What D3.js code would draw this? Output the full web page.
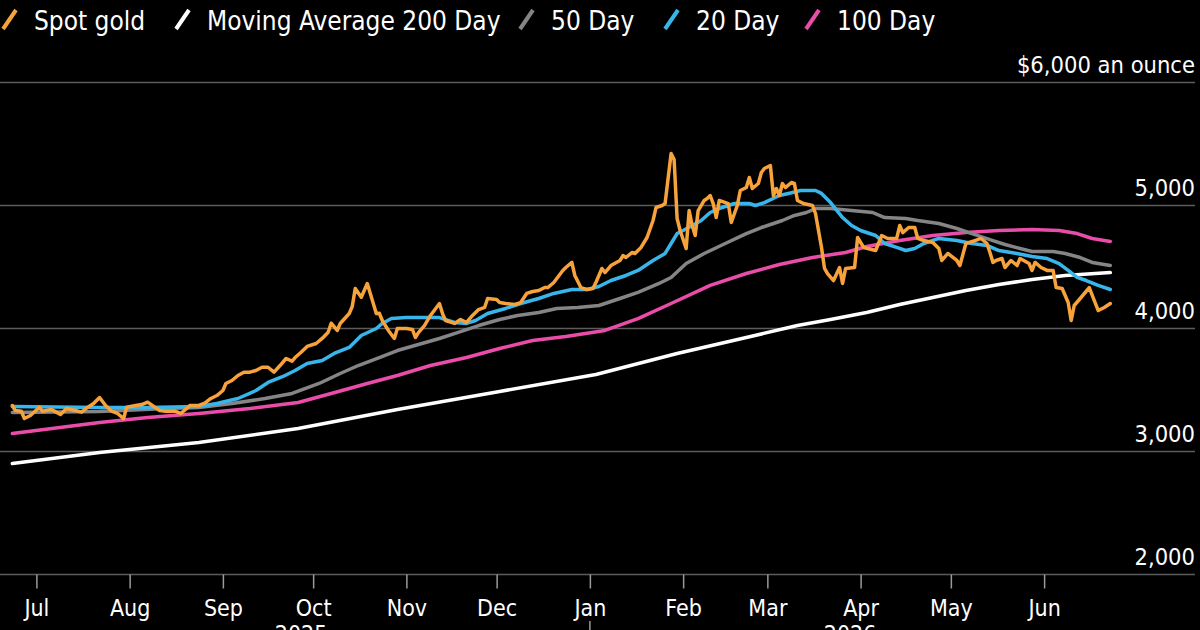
<!DOCTYPE html>
<html>
<head>
<meta charset="utf-8">
<script src="https://cdn.jsdelivr.net/npm/d3@7"></script>
<style>
  body { margin: 0; background: #000; }
  svg text { font-family: "DejaVu Sans Condensed", "DejaVu Sans", sans-serif; fill: #fff; }
</style>
</head>
<body>
<script>
// Series values ([date, $ an ounce])
var spotGold = [["2025-06-23",3374],["2025-06-24",3333],["2025-06-26",3328],["2025-06-27",3268],["2025-06-29",3293],["2025-07-02",3360],["2025-07-03",3328],["2025-07-06",3341],["2025-07-07",3328],["2025-07-09",3301],["2025-07-11",3350],["2025-07-14",3333],["2025-07-16",3320],["2025-07-18",3358],["2025-07-20",3390],["2025-07-22",3439],["2025-07-24",3374],["2025-07-26",3328],["2025-07-28",3309],["2025-07-30",3268],["2025-07-31",3360],["2025-08-03",3374],["2025-08-05",3382],["2025-08-07",3401],["2025-08-09",3366],["2025-08-11",3333],["2025-08-13",3328],["2025-08-16",3328],["2025-08-18",3309],["2025-08-20",3350],["2025-08-21",3374],["2025-08-24",3374],["2025-08-26",3393],["2025-08-28",3431],["2025-08-30",3455],["2025-09-01",3496],["2025-09-02",3553],["2025-09-04",3577],["2025-09-06",3618],["2025-09-08",3645],["2025-09-10",3645],["2025-09-12",3659],["2025-09-14",3685],["2025-09-16",3685],["2025-09-18",3645],["2025-09-20",3699],["2025-09-22",3756],["2025-09-24",3734],["2025-09-25",3764],["2025-09-27",3807],["2025-09-29",3854],["2025-10-02",3878],["2025-10-04",3919],["2025-10-06",3970],["2025-10-07",4043],["2025-10-09",3984],["2025-10-10",4041],["2025-10-13",4122],["2025-10-14",4179],["2025-10-15",4325],["2025-10-17",4254],["2025-10-19",4366],["2025-10-20",4285],["2025-10-22",4122],["2025-10-23",4124],["2025-10-24",4065],["2025-10-26",3984],["2025-10-28",3919],["2025-10-29",4000],["2025-11-01",4000],["2025-11-03",3992],["2025-11-04",3927],["2025-11-05",3967],["2025-11-07",4024],["2025-11-09",4106],["2025-11-12",4203],["2025-11-13",4122],["2025-11-14",4065],["2025-11-17",4041],["2025-11-19",4073],["2025-11-21",4049],["2025-11-23",4106],["2025-11-25",4154],["2025-11-27",4171],["2025-11-28",4244],["2025-12-01",4236],["2025-12-02",4211],["2025-12-04",4203],["2025-12-07",4195],["2025-12-09",4211],["2025-12-11",4285],["2025-12-13",4301],["2025-12-15",4309],["2025-12-17",4333],["2025-12-18",4333],["2025-12-20",4374],["2025-12-23",4472],["2025-12-24",4496],["2025-12-26",4537],["2025-12-27",4431],["2025-12-29",4333],["2025-12-31",4317],["2026-01-02",4325],["2026-01-03",4374],["2026-01-05",4488],["2026-01-06",4455],["2026-01-08",4512],["2026-01-11",4553],["2026-01-12",4593],["2026-01-13",4577],["2026-01-15",4618],["2026-01-16",4610],["2026-01-18",4659],["2026-01-20",4740],["2026-01-22",4878],["2026-01-23",4984],["2026-01-25",5000],["2026-01-26",5016],["2026-01-28",5423],["2026-01-29",5374],["2026-01-30",4894],["2026-01-31",4797],["2026-02-02",4650],["2026-02-03",4959],["2026-02-04",4837],["2026-02-05",4756],["2026-02-06",4959],["2026-02-08",5041],["2026-02-09",5057],["2026-02-10",5081],["2026-02-11",5016],["2026-02-12",4902],["2026-02-13",5041],["2026-02-16",5016],["2026-02-17",4862],["2026-02-19",5000],["2026-02-20",5122],["2026-02-22",5146],["2026-02-23",5228],["2026-02-24",5138],["2026-02-26",5179],["2026-02-27",5268],["2026-02-28",5301],["2026-03-02",5325],["2026-03-03",5081],["2026-03-04",5138],["2026-03-05",5081],["2026-03-06",5179],["2026-03-07",5146],["2026-03-09",5187],["2026-03-10",5179],["2026-03-11",5041],["2026-03-13",5016],["2026-03-16",5000],["2026-03-17",4935],["2026-03-19",4659],["2026-03-20",4488],["2026-03-21",4447],["2026-03-23",4390],["2026-03-25",4496],["2026-03-26",4366],["2026-03-27",4488],["2026-03-30",4496],["2026-03-31",4740],["2026-04-02",4659],["2026-04-06",4634],["2026-04-08",4756],["2026-04-10",4732],["2026-04-13",4732],["2026-04-14",4837],["2026-04-15",4780],["2026-04-17",4821],["2026-04-19",4821],["2026-04-20",4732],["2026-04-22",4715],["2026-04-25",4699],["2026-04-27",4650],["2026-04-28",4553],["2026-04-30",4610],["2026-05-03",4553],["2026-05-04",4512],["2026-05-06",4691],["2026-05-09",4715],["2026-05-11",4732],["2026-05-13",4691],["2026-05-14",4618],["2026-05-15",4537],["2026-05-16",4553],["2026-05-18",4569],["2026-05-19",4496],["2026-05-21",4553],["2026-05-23",4512],["2026-05-24",4569],["2026-05-27",4528],["2026-05-28",4472],["2026-05-29",4537],["2026-05-31",4496],["2026-06-02",4472],["2026-06-04",4472],["2026-06-05",4333],["2026-06-07",4325],["2026-06-09",4211],["2026-06-10",4065],["2026-06-11",4187],["2026-06-13",4244],["2026-06-16",4333],["2026-06-19",4146],["2026-06-21",4171],["2026-06-23",4203]];

var ma200 = [["2025-06-23",2902],["2025-07-22",2992],["2025-08-24",3073],["2025-09-26",3187],["2025-10-29",3341],["2025-12-02",3488],["2026-01-03",3626],["2026-01-30",3797],["2026-02-22",3927],["2026-03-11",4024],["2026-03-22",4073],["2026-04-03",4130],["2026-04-14",4195],["2026-04-25",4252],["2026-05-06",4309],["2026-05-17",4358],["2026-05-28",4398],["2026-06-08",4431],["2026-06-23",4455]];

var ma50 = [["2025-06-23",3317],["2025-07-22",3325],["2025-08-13",3350],["2025-08-24",3358],["2025-09-04",3390],["2025-09-15",3431],["2025-09-24",3472],["2025-10-03",3553],["2025-10-10",3634],["2025-10-16",3699],["2025-10-23",3764],["2025-10-29",3821],["2025-11-05",3870],["2025-11-12",3919],["2025-11-18",3967],["2025-11-25",4024],["2025-12-02",4073],["2025-12-08",4106],["2025-12-15",4130],["2025-12-21",4163],["2025-12-28",4171],["2026-01-04",4187],["2026-01-11",4244],["2026-01-17",4293],["2026-01-24",4366],["2026-01-28",4415],["2026-02-02",4528],["2026-02-08",4610],["2026-02-15",4691],["2026-02-22",4772],["2026-02-27",4821],["2026-03-06",4878],["2026-03-10",4919],["2026-03-14",4943],["2026-03-17",4975],["2026-03-22",4975],["2026-03-29",4959],["2026-04-05",4943],["2026-04-09",4902],["2026-04-16",4894],["2026-04-20",4878],["2026-04-27",4854],["2026-05-03",4813],["2026-05-08",4772],["2026-05-15",4715],["2026-05-19",4683],["2026-05-24",4650],["2026-05-28",4626],["2026-06-04",4626],["2026-06-08",4610],["2026-06-13",4577],["2026-06-17",4537],["2026-06-23",4512]];

var ma20 = [["2025-06-23",3366],["2025-07-22",3358],["2025-08-07",3358],["2025-08-24",3366],["2025-08-30",3390],["2025-09-06",3431],["2025-09-12",3496],["2025-09-16",3561],["2025-09-21",3610],["2025-09-25",3659],["2025-09-29",3715],["2025-10-04",3740],["2025-10-08",3797],["2025-10-13",3846],["2025-10-17",3943],["2025-10-22",4000],["2025-10-24",4041],["2025-10-27",4081],["2025-11-01",4089],["2025-11-07",4089],["2025-11-12",4089],["2025-11-17",4049],["2025-11-21",4041],["2025-11-24",4065],["2025-11-28",4122],["2025-12-04",4163],["2025-12-09",4203],["2025-12-15",4244],["2025-12-20",4285],["2025-12-26",4317],["2025-12-31",4317],["2026-01-04",4341],["2026-01-08",4390],["2026-01-13",4431],["2026-01-17",4472],["2026-01-22",4553],["2026-01-26",4610],["2026-01-28",4691],["2026-01-30",4772],["2026-02-01",4797],["2026-02-04",4837],["2026-02-07",4878],["2026-02-10",4943],["2026-02-14",4984],["2026-02-18",5016],["2026-02-23",5016],["2026-02-25",5000],["2026-02-28",5024],["2026-03-05",5081],["2026-03-08",5098],["2026-03-12",5122],["2026-03-17",5122],["2026-03-19",5098],["2026-03-22",5024],["2026-03-26",4902],["2026-03-29",4837],["2026-04-01",4797],["2026-04-06",4756],["2026-04-09",4691],["2026-04-13",4659],["2026-04-16",4634],["2026-04-19",4650],["2026-04-22",4691],["2026-04-27",4732],["2026-05-03",4715],["2026-05-08",4691],["2026-05-13",4675],["2026-05-17",4634],["2026-05-23",4610],["2026-05-28",4585],["2026-06-02",4569],["2026-06-06",4528],["2026-06-09",4472],["2026-06-12",4415],["2026-06-15",4390],["2026-06-19",4350],["2026-06-23",4317]];

var ma100 = [["2025-06-23",3146],["2025-07-22",3236],["2025-08-07",3276],["2025-08-24",3309],["2025-09-10",3350],["2025-09-26",3398],["2025-10-07",3472],["2025-10-19",3553],["2025-10-29",3618],["2025-11-09",3699],["2025-11-21",3764],["2025-12-02",3837],["2025-12-13",3902],["2025-12-24",3935],["2026-01-06",3984],["2026-01-17",4081],["2026-01-28",4203],["2026-02-10",4350],["2026-02-22",4447],["2026-03-05",4520],["2026-03-16",4577],["2026-03-27",4618],["2026-04-03",4667],["2026-04-14",4715],["2026-04-25",4756],["2026-05-06",4780],["2026-05-17",4797],["2026-05-28",4805],["2026-06-06",4797],["2026-06-12",4772],["2026-06-17",4732],["2026-06-23",4707]];

var yTicks = [2000, 3000, 4000, 5000, 6000];
var seriesNames = ["Spot gold", "Moving Average 200 Day", "50 Day", "20 Day", "100 Day"];
var seriesColors = ["#f7a23b", "#ffffff", "#858585", "#38b6ec", "#ea4ca9"];

var width = 1200, height = 630;
var parse = d3.utcParse("%Y-%m-%d");

function rows(arr) {
	return arr.map(function(d) { return { date: parse(d[0]), value: d[1] }; });
}
var series = [rows(spotGold), rows(ma200), rows(ma50), rows(ma20), rows(ma100)];

var svg = d3.select("body").append("svg")
	.attr("width", width)
	.attr("height", height);

// scales
var x = d3.scaleUtc()
	.domain([parse("2025-06-20"), parse("2026-06-25")])
	.range([3.3, 1116.3]);

var y = d3.scaleLinear()
	.domain([2000, 6000])
	.range([574.5, 82.5]);

// horizontal gridlines with labels sitting above them
svg.selectAll(".grid")
	.data(yTicks)
	.enter().append("line")
	.attr("class", "grid")
	.attr("x1", 0)
	.attr("x2", 1195)
	.attr("y1", function(d) { return y(d); })
	.attr("y2", function(d) { return y(d); })
	.attr("stroke", "#5c5c5c")
	.attr("stroke-width", 1.5);

svg.selectAll(".ylabel")
	.data(yTicks)
	.enter().append("text")
	.attr("class", "ylabel")
	.attr("x", 1195)
	.attr("y", function(d) { return y(d) - 10; })
	.attr("text-anchor", "end")
	.style("font-size", "23.5px")
	.text(function(d) { return d === 6000 ? "$6,000 an ounce" : d3.format(",")(d); });

// month axis
var xAxis = d3.axisBottom(x)
	.ticks(d3.utcMonth.every(1))
	.tickFormat(d3.utcFormat("%b"))
	.tickSize(14)
	.tickPadding(11);

var gx = svg.append("g")
	.attr("transform", "translate(0," + y(2000) + ")")
	.call(xAxis);
gx.select(".domain").remove();
gx.selectAll(".tick line").attr("stroke", "#9a9a9a").attr("stroke-width", 1.5);
gx.selectAll(".tick text")
	.attr("fill", "#fff")
	.style("font-size", "23px")
	.style("font-family", "\"DejaVu Sans Condensed\", \"DejaVu Sans\", sans-serif");

// years under the months
var first = series[0][0].date, last = series[0][series[0].length - 1].date;
var newYear = parse("2026-01-01");
var years = [
	{ label: "2025", mid: (x(first) + x(newYear)) / 2 },
	{ label: "2026", mid: (x(newYear) + x(last)) / 2 }
];
svg.selectAll(".year")
	.data(years)
	.enter().append("text")
	.attr("class", "year")
	.attr("x", function(d) { return d.mid; })
	.attr("y", 642)
	.attr("text-anchor", "middle")
	.style("font-size", "23px")
	.text(function(d) { return d.label; });
svg.append("line")
	.attr("x1", x(newYear)).attr("x2", x(newYear))
	.attr("y1", 621).attr("y2", 630)
	.attr("stroke", "#9a9a9a").attr("stroke-width", 1.5);

// lines, spot gold on top
var line = d3.line()
	.x(function(d) { return x(d.date); })
	.y(function(d) { return y(d.value); });

var drawOrder = [1, 4, 2, 3, 0];
drawOrder.forEach(function(i) {
	svg.append("path")
		.datum(series[i])
		.attr("fill", "none")
		.attr("stroke", seriesColors[i])
		.attr("stroke-width", 3.5)
		.attr("stroke-linejoin", "round")
		.attr("stroke-linecap", "round")
		.attr("d", line);
});

// legend
var legendX = [34, 207, 551, 696, 837];
var legend = svg.selectAll(".legend")
	.data(seriesNames)
	.enter().append("g")
	.attr("class", "legend")
	.attr("transform", function(d, i) { return "translate(" + legendX[i] + ",0)"; });

legend.append("line")
	.attr("x1", -31).attr("y1", 29)
	.attr("x2", -18).attr("y2", 10)
	.attr("stroke", function(d, i) { return seriesColors[i]; })
	.attr("stroke-width", 4);

legend.append("text")
	.attr("x", 0)
	.attr("y", 30)
	.style("font-size", "26px")
	.text(function(d) { return d; });
</script>
</body>
</html>
